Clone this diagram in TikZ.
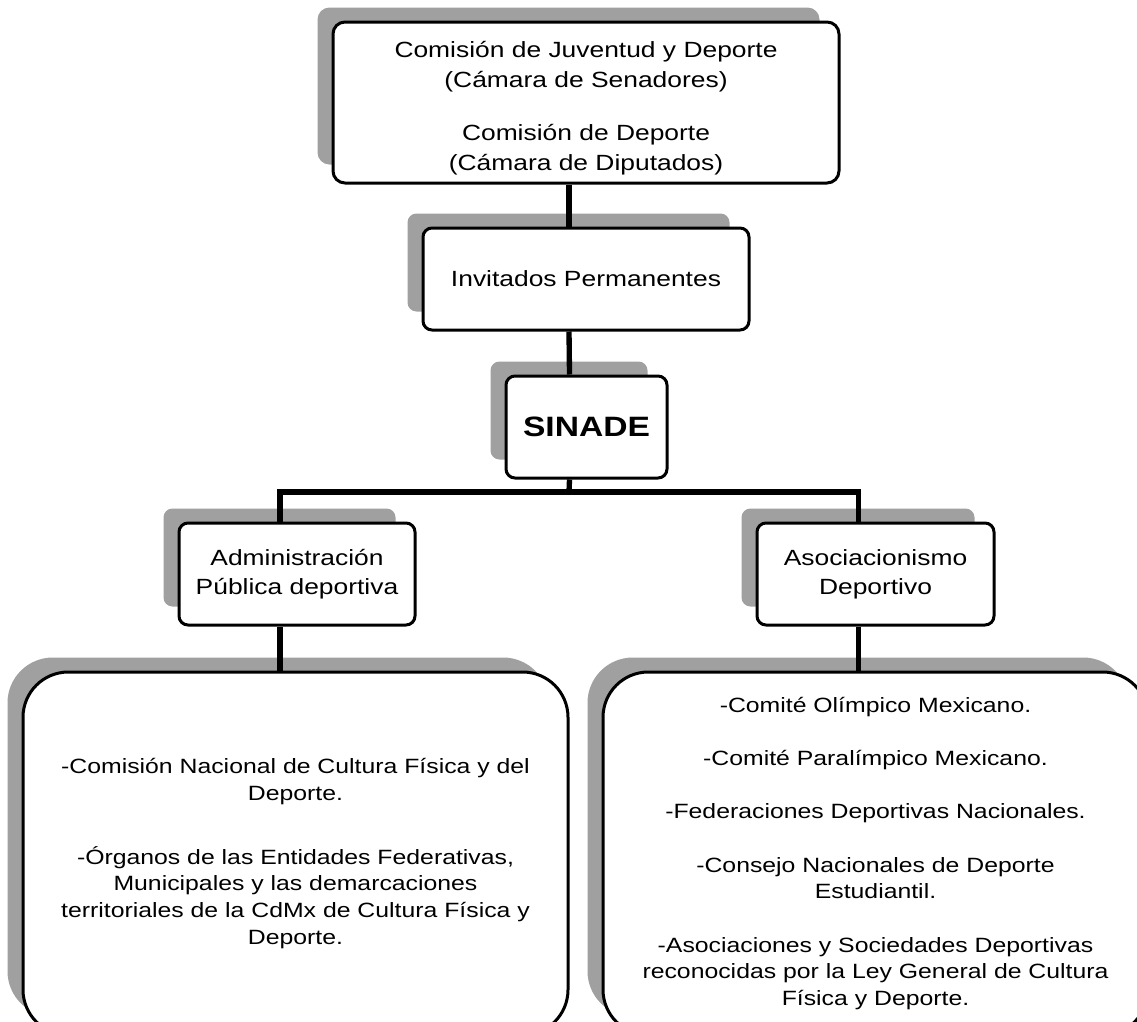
\documentclass[tikz,border=0pt]{standalone}
\usepackage{fontspec}
\setmainfont{Liberation Sans}[FakeStretch=1.2]
\usepackage{tikz}
\usetikzlibrary{backgrounds}
\definecolor{shadegray}{RGB}{160,160,160}

\begin{document}
\begin{tikzpicture}[x=0.75pt,y=-0.75pt]
    \tikzset{box/.style = {draw, line width=2.25pt, fill=white, align=center,
        inner sep=0pt, font=\fontsize{16.5}{21.5}\selectfont}}
    \tikzset{bigbox/.style = {box, rounded corners=34pt, minimum width=408.75pt, minimum height=272.25pt,
        font=\fontsize{15.5}{20}\selectfont}}
    \tikzset{link/.style = {line width=4pt}}
    \tikzset{shade/.style = {fill=shadegray}}
    \useasboundingbox (0,0) rectangle (1137,1021);
    \clip (0,0) rectangle (1137,1021);
    % boxes
    \node[box, rounded corners=9pt, minimum width=379.5pt, minimum height=120.75pt,
        font=\fontsize{16.5}{22.5}\selectfont] (cam) at (586,102.5)
        {\\[-2pt]Comisión de Juventud y Deporte\\(Cámara de Senadores)\\[17pt]Comisión de Deporte\\(Cámara de Diputados)};
    \node[box, rounded corners=6.75pt, minimum width=244.5pt, minimum height=76.5pt] (inv) at (586,279) {Invitados Permanentes};
    \node[box, rounded corners=6.75pt, minimum width=120.75pt, minimum height=76.5pt,
        font=\fontsize{21}{24}\selectfont\bfseries] (sinade) at (586.5,427) {SINADE};
    \node[box, rounded corners=6.75pt, minimum width=177pt, minimum height=76.5pt] (adm) at (297,574)
        {Administración\\Pública deportiva};
    \node[box, rounded corners=6.75pt, minimum width=177.75pt, minimum height=76.5pt] (asoc) at (875.5,574)
        {Asociacionismo\\Deportivo};
    \node[bigbox] (pub) at (295.5,853.5)
        {-Comisión Nacional de Cultura Física y del\\Deporte.\\[28pt]-Órganos de las Entidades Federativas,\\Municipales y las demarcaciones\\territoriales de la CdMx de Cultura Física y\\Deporte.};
    \node[bigbox] (dep) at (875.5,853.5)
        {-Comité Olímpico Mexicano.\\[20pt]-Comité Paralímpico Mexicano.\\[20pt]-Federaciones Deportivas Nacionales.\\[20pt]-Consejo Nacionales de Deporte\\Estudiantil.\\[20pt]-Asociaciones y Sociedades Deportivas\\reconocidas por la Ley General de Cultura\\Física y Deporte.};
    % shadows
    \begin{scope}[on background layer]
        \foreach \n/\r in {cam/9pt, inv/6.75pt, sinade/6.75pt, adm/6.75pt, asoc/6.75pt, pub/34pt, dep/34pt}
            \fill[shade, rounded corners=\r] ([shift={(-14,-13)}]\n.north west) rectangle ([shift={(-21,-20)}]\n.south east);
    \end{scope}
    % connectors
    \coordinate (bar) at (569,492);
    \draw[link] ([xshift=-12.75pt]cam.south) -- ([xshift=-12.75pt]inv.north);
    \draw[link] ([xshift=-12.75pt]inv.south) -- ([xshift=-12.75pt]sinade.north);
    \draw[link] ([xshift=-12.75pt]sinade.south) -- (bar);
    \draw[link] ([xshift=-12.75pt]adm.north) |- (bar) -| ([xshift=-12.75pt]asoc.north);
    \draw[link] ([xshift=-12.75pt]adm.south) -- ([xshift=-12.75pt]adm.south |- pub.north);
    \draw[link] ([xshift=-12.75pt]asoc.south) -- ([xshift=-12.75pt]asoc.south |- dep.north);
\end{tikzpicture}
\end{document}
